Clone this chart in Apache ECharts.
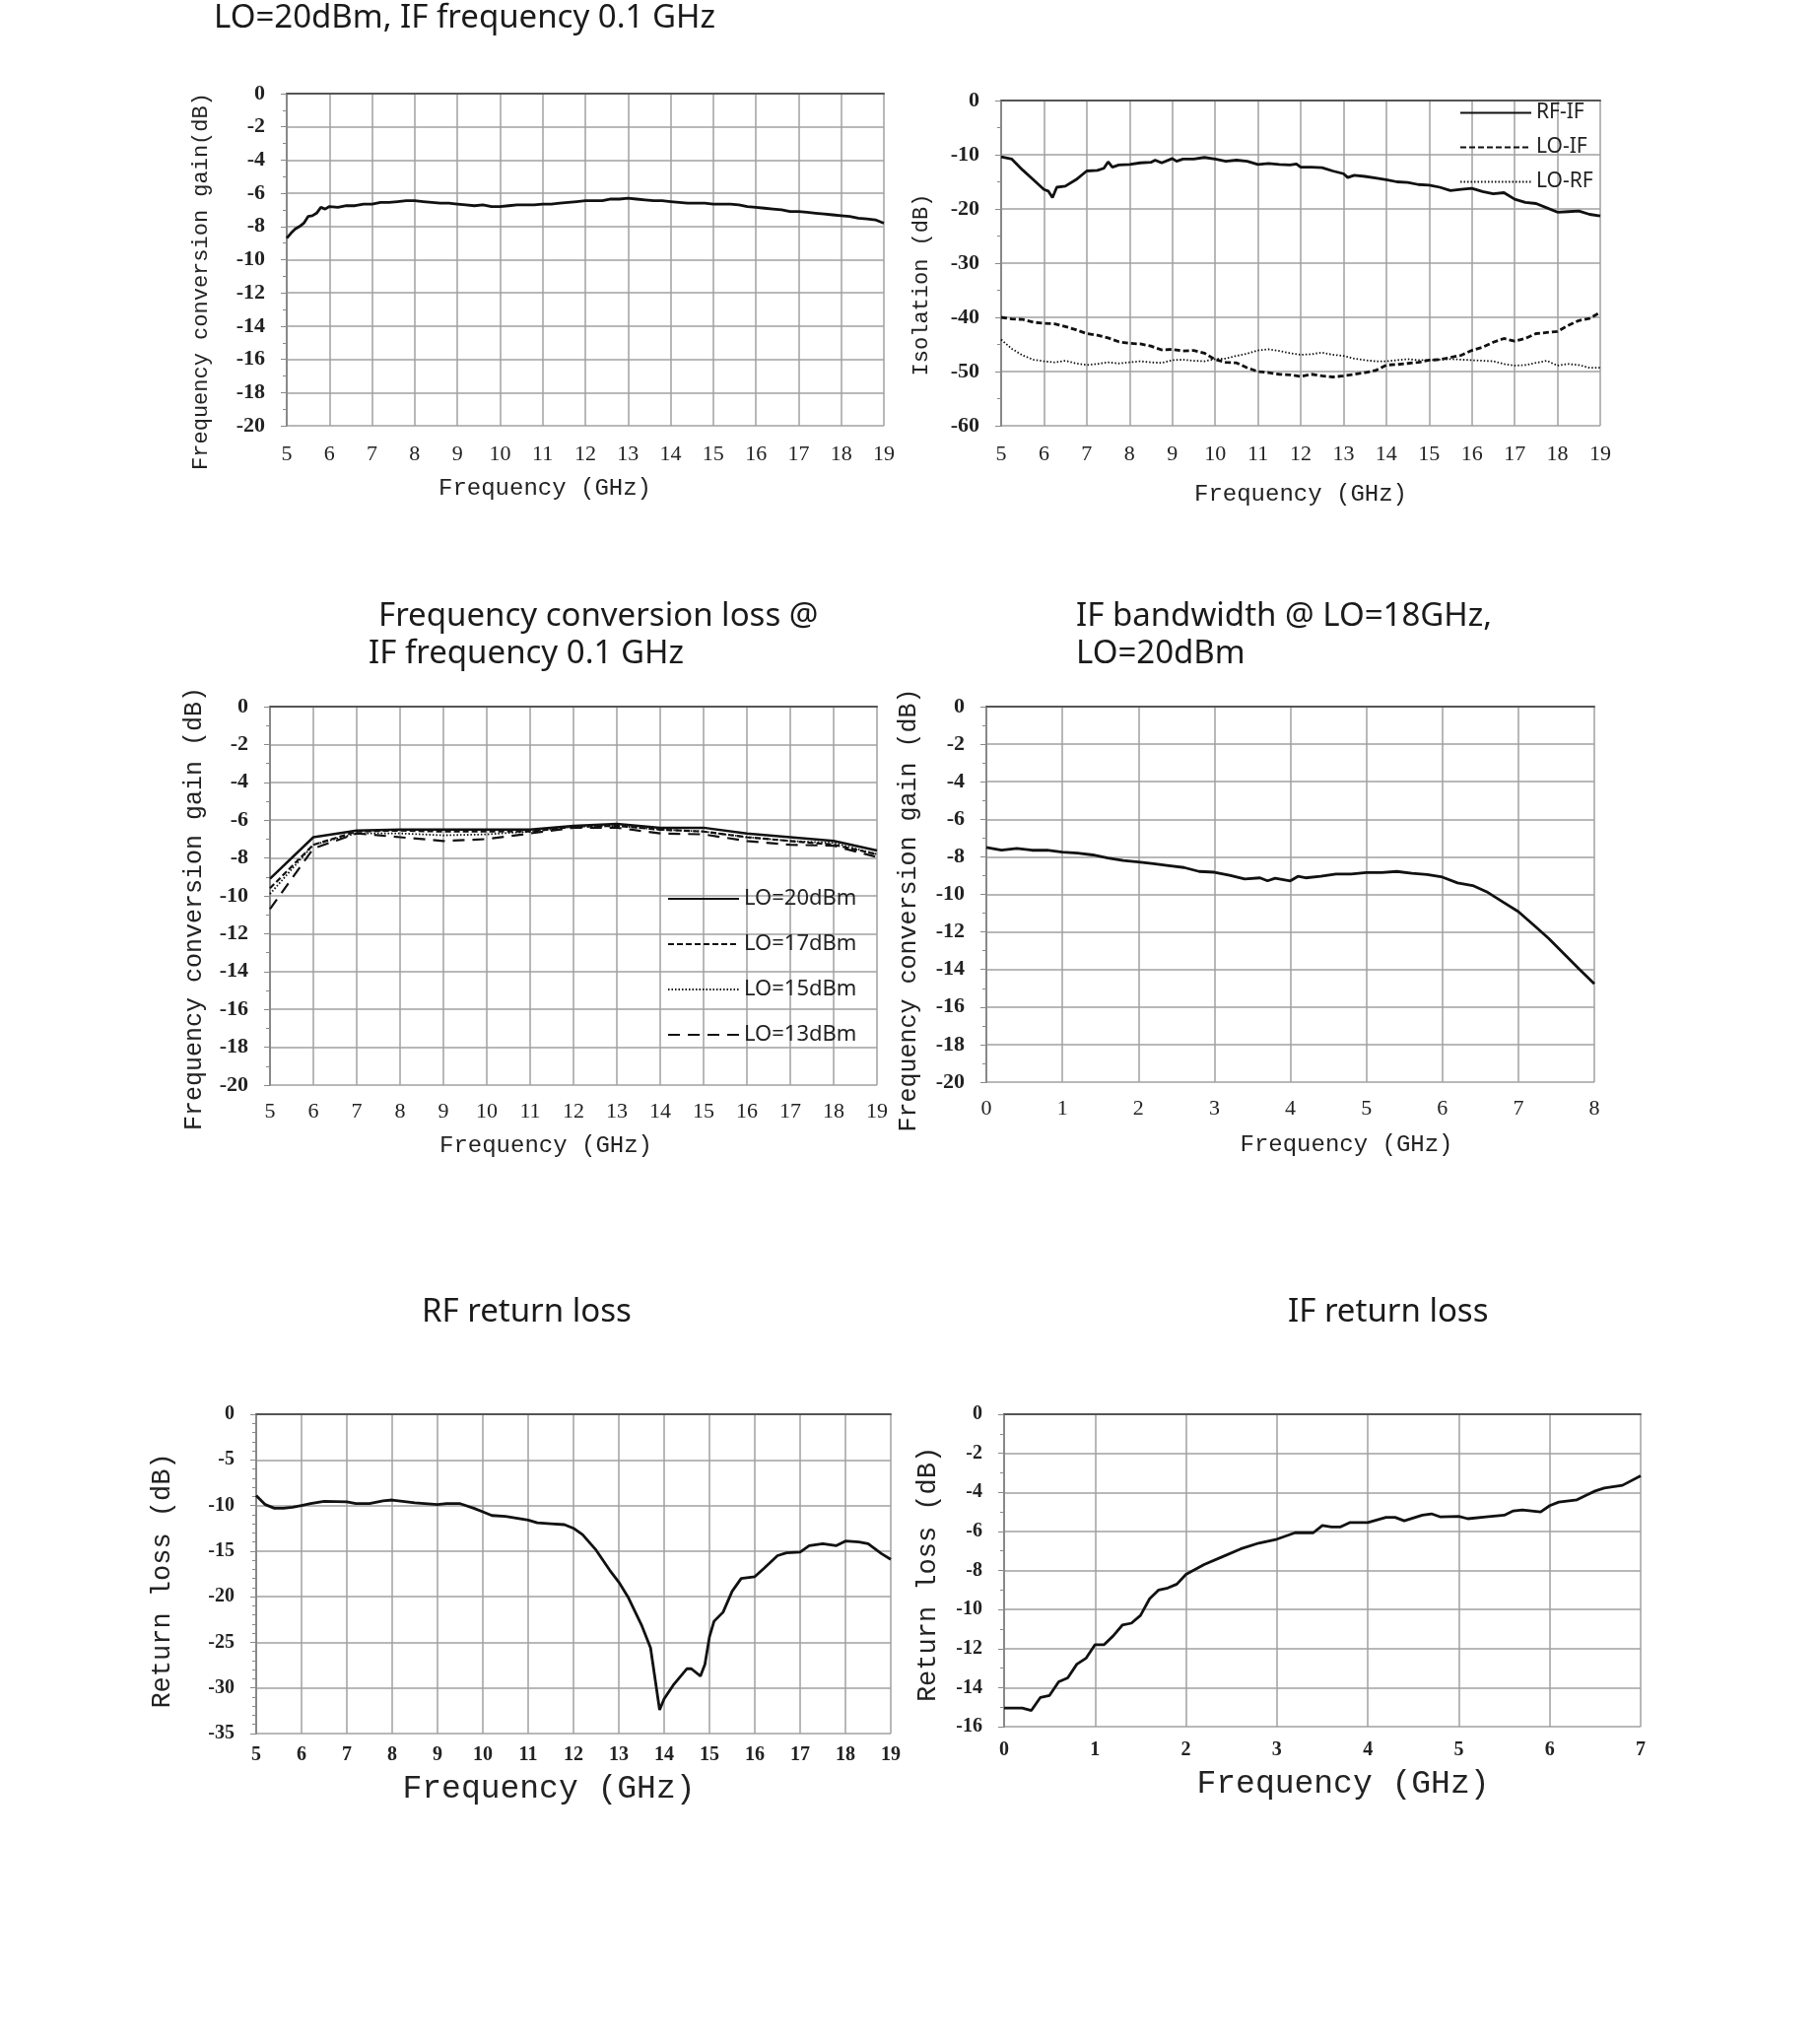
<!DOCTYPE html>
<html><head><meta charset="utf-8">
<script src="https://cdn.jsdelivr.net/npm/echarts@6/dist/echarts.min.js"></script>
<style>html,body{margin:0;padding:0;background:#fff}#c{width:1846px;height:2074px}</style>
</head><body><div id="c"></div>
<script>
// ---------- Chart 1: conversion gain, LO=20dBm ----------
const gainFreq = [5,5.1,5.2,5.3,5.4,5.5,5.6,5.7,5.8,5.9,6,6.2,6.4,6.6,6.8,7,7.2,7.4,7.6,7.8,8,8.2,8.4,8.6,8.8,9,9.2,9.4,9.6,9.8,10,10.2,10.4,10.6,10.8,11,11.2,11.4,11.6,11.8,12,12.2,12.4,12.6,12.8,13,13.2,13.4,13.6,13.8,14,14.2,14.4,14.6,14.8,15,15.2,15.4,15.6,15.8,16,16.2,16.4,16.6,16.8,17,17.2,17.4,17.6,17.8,18,18.2,18.4,18.6,18.8,19];
const gainVal = [-8.7,-8.4,-8.15,-8.0,-7.8,-7.4,-7.35,-7.2,-6.85,-6.95,-6.8,-6.85,-6.75,-6.75,-6.65,-6.65,-6.55,-6.55,-6.5,-6.45,-6.45,-6.5,-6.55,-6.6,-6.6,-6.65,-6.7,-6.75,-6.7,-6.8,-6.8,-6.75,-6.7,-6.7,-6.7,-6.65,-6.65,-6.6,-6.55,-6.5,-6.45,-6.45,-6.45,-6.35,-6.35,-6.3,-6.35,-6.4,-6.45,-6.45,-6.5,-6.55,-6.6,-6.6,-6.6,-6.65,-6.65,-6.65,-6.7,-6.8,-6.85,-6.9,-6.95,-7.0,-7.1,-7.1,-7.15,-7.2,-7.25,-7.3,-7.35,-7.4,-7.5,-7.55,-7.6,-7.8];

// ---------- Chart 2: isolation ----------
const isoFreq = [5,5.25,5.5,5.75,6,6.25,6.5,6.75,7,7.25,7.5,7.75,8,8.25,8.5,8.75,9,9.25,9.5,9.75,10,10.25,10.5,10.75,11,11.25,11.5,11.75,12,12.25,12.5,12.75,13,13.25,13.5,13.75,14,14.25,14.5,14.75,15,15.25,15.5,15.75,16,16.25,16.5,16.75,17,17.25,17.5,17.75,18,18.25,18.5,18.75,19];
const rfIfFreq = [5,5.25,5.5,5.75,6,6.1,6.2,6.3,6.5,6.75,7,7.25,7.4,7.5,7.6,7.75,8,8.25,8.5,8.6,8.75,9,9.1,9.25,9.5,9.75,10,10.25,10.5,10.75,11,11.25,11.5,11.75,11.9,12,12.25,12.5,12.75,13,13.1,13.25,13.5,13.75,14,14.25,14.5,14.75,15,15.25,15.5,15.75,16,16.25,16.5,16.75,17,17.25,17.5,17.75,18,18.25,18.5,18.75,19];
const rfIf = [-10.4,-10.8,-12.8,-14.6,-16.4,-16.7,-17.9,-16.0,-15.8,-14.6,-13.0,-12.9,-12.5,-11.3,-12.3,-11.9,-11.8,-11.5,-11.4,-11.0,-11.5,-10.7,-11.2,-10.8,-10.8,-10.5,-10.8,-11.2,-11.0,-11.2,-11.8,-11.6,-11.8,-11.9,-11.7,-12.3,-12.3,-12.4,-13.0,-13.5,-14.2,-13.8,-14.0,-14.3,-14.6,-15.0,-15.1,-15.5,-15.6,-16.0,-16.6,-16.4,-16.2,-16.8,-17.2,-17.0,-18.2,-18.8,-19.0,-19.8,-20.6,-20.5,-20.4,-21.0,-21.3];
const loIf = [-40.0,-40.3,-40.4,-40.9,-41.1,-41.2,-41.7,-42.3,-43.0,-43.3,-43.8,-44.5,-44.8,-44.9,-45.3,-46.0,-45.9,-46.2,-46.1,-46.6,-47.8,-48.3,-48.4,-49.3,-50.0,-50.2,-50.5,-50.6,-50.9,-50.5,-50.8,-51.0,-50.8,-50.5,-50.2,-49.8,-48.8,-48.7,-48.5,-48.3,-47.9,-47.8,-47.4,-47.0,-46.1,-45.5,-44.6,-43.9,-44.4,-43.9,-43.0,-42.8,-42.6,-41.5,-40.6,-40.2,-39.1];
const loRf = [-44.1,-45.8,-47.0,-47.8,-48.1,-48.3,-48.0,-48.5,-48.8,-48.6,-48.3,-48.5,-48.3,-48.1,-48.3,-48.4,-47.9,-47.8,-48.0,-48.1,-47.7,-47.6,-47.1,-46.7,-46.1,-45.9,-46.2,-46.6,-46.9,-46.8,-46.5,-46.9,-47.1,-47.6,-47.9,-48.1,-48.1,-47.9,-47.7,-47.9,-47.9,-47.8,-47.7,-47.8,-47.9,-48.0,-48.1,-48.6,-48.9,-48.8,-48.4,-48.0,-48.9,-48.6,-48.8,-49.3,-49.3];

// ---------- Chart 3: conversion loss vs LO power ----------
const lossFreq = [5,6,7,8,9,10,11,12,13,14,15,16,17,18,19];
const lo20 = [-9.1,-6.9,-6.55,-6.5,-6.5,-6.5,-6.5,-6.3,-6.2,-6.4,-6.4,-6.7,-6.9,-7.1,-7.6];
const lo17 = [-9.6,-7.3,-6.6,-6.55,-6.6,-6.6,-6.6,-6.35,-6.3,-6.5,-6.6,-6.9,-7.1,-7.3,-7.8];
const lo15 = [-9.9,-7.3,-6.7,-6.7,-6.8,-6.75,-6.6,-6.35,-6.3,-6.5,-6.6,-6.9,-7.1,-7.2,-7.8];
const lo13 = [-10.7,-7.5,-6.7,-6.9,-7.1,-7.0,-6.7,-6.4,-6.4,-6.7,-6.75,-7.1,-7.3,-7.35,-7.95];

// ---------- Chart 4: IF bandwidth ----------
const ifbwFreq = [0,0.2,0.4,0.6,0.8,1.0,1.2,1.4,1.6,1.8,2.0,2.2,2.4,2.6,2.8,3.0,3.2,3.4,3.6,3.7,3.8,4.0,4.1,4.2,4.4,4.6,4.8,5.0,5.2,5.4,5.6,5.8,6.0,6.2,6.4,6.6,6.8,7.0,7.2,7.4,7.6,7.8,8.0];
const ifbwVal = [-7.5,-7.65,-7.55,-7.65,-7.65,-7.75,-7.8,-7.9,-8.06,-8.2,-8.27,-8.37,-8.47,-8.57,-8.78,-8.82,-8.98,-9.18,-9.12,-9.28,-9.14,-9.28,-9.04,-9.12,-9.04,-8.92,-8.92,-8.84,-8.84,-8.78,-8.88,-8.94,-9.08,-9.39,-9.53,-9.9,-10.41,-10.92,-11.63,-12.35,-13.16,-13.98,-14.76];

// ---------- Chart 5: RF return loss ----------
const rfRlFreq = [5.0,5.2,5.4,5.6,5.8,6.0,6.2,6.5,7.0,7.2,7.5,7.8,8.0,8.5,9.0,9.2,9.5,9.8,10.0,10.2,10.5,11.0,11.2,11.5,11.8,12.0,12.2,12.5,12.8,13.0,13.2,13.5,13.7,13.9,14.0,14.2,14.5,14.6,14.8,14.9,15.0,15.1,15.3,15.5,15.7,16.0,16.2,16.5,16.7,17.0,17.2,17.5,17.8,18.0,18.3,18.5,18.8,19.0];
const rfRlVal = [-8.9,-9.9,-10.3,-10.3,-10.2,-10.0,-9.8,-9.55,-9.6,-9.8,-9.8,-9.5,-9.4,-9.7,-9.9,-9.8,-9.8,-10.3,-10.7,-11.1,-11.2,-11.6,-11.9,-12.0,-12.1,-12.5,-13.2,-14.9,-17.1,-18.4,-20.0,-23.1,-25.6,-32.4,-31.2,-29.7,-27.9,-27.9,-28.7,-27.4,-24.4,-22.7,-21.7,-19.4,-18.0,-17.8,-16.9,-15.5,-15.2,-15.1,-14.4,-14.2,-14.4,-13.9,-14.0,-14.2,-15.3,-15.9];

// ---------- Chart 6: IF return loss ----------
const ifRlFreq = [0.0,0.2,0.3,0.4,0.5,0.6,0.7,0.8,0.9,1.0,1.1,1.2,1.3,1.4,1.5,1.6,1.7,1.8,1.9,2.0,2.2,2.4,2.6,2.8,3.0,3.2,3.4,3.5,3.6,3.7,3.8,4.0,4.2,4.3,4.4,4.6,4.7,4.8,5.0,5.1,5.3,5.5,5.6,5.7,5.9,6.0,6.1,6.3,6.4,6.5,6.6,6.8,7.0];
const ifRlVal = [-15.05,-15.05,-15.17,-14.5,-14.4,-13.7,-13.5,-12.8,-12.5,-11.8,-11.8,-11.35,-10.8,-10.7,-10.3,-9.45,-9.0,-8.9,-8.7,-8.2,-7.7,-7.3,-6.9,-6.6,-6.4,-6.07,-6.07,-5.7,-5.77,-5.77,-5.55,-5.55,-5.28,-5.28,-5.46,-5.17,-5.1,-5.26,-5.23,-5.35,-5.26,-5.17,-4.95,-4.9,-5.0,-4.68,-4.5,-4.38,-4.15,-3.93,-3.78,-3.64,-3.15];

const zip = (xs, ys) => xs.map((x, i) => [x, ys[i]]);

const serif = 'Liberation Serif';
const mono = 'Liberation Mono';
const sans = 'Noto Sans';
const gridColor = '#a0a0a0';

function nameStyle(size, pad, weight) {
  return { fontFamily: mono, fontSize: size, color: '#222', fontWeight: weight || 'normal', padding: pad || 0 };
}
function xAx(i, min, max, opt) {
  return Object.assign({
    type: 'value', gridIndex: i, min: min, max: max, interval: 1,
    name: 'Frequency (GHz)', nameLocation: 'middle', nameGap: 50,
    nameTextStyle: nameStyle(23),
    axisLine: { show: true, lineStyle: { color: '#555', width: 2 } },
    axisTick: { show: false },
    axisLabel: { fontFamily: serif, fontSize: 22, color: '#222', margin: 18 },
    splitLine: { show: true, lineStyle: { color: gridColor, width: 1.5 } }
  }, opt || {});
}
function yAx(i, min, max, step, name, opt) {
  return Object.assign({
    type: 'value', gridIndex: i, min: min, max: max, interval: step,
    name: name, nameLocation: 'middle', nameGap: 70, nameRotate: 90,
    nameTextStyle: nameStyle(22),
    axisLine: { show: true, lineStyle: { color: '#888', width: 2 } },
    axisTick: { show: true, length: 6, lineStyle: { color: '#888' } },
    minorTick: { show: true, splitNumber: 2, length: 4, lineStyle: { color: '#888' } },
    axisLabel: { fontFamily: serif, fontSize: 22, fontWeight: 'bold', color: '#222', margin: 22 },
    splitLine: { show: true, lineStyle: { color: gridColor, width: 1.5 } }
  }, opt || {});
}
const lineBase = { type: 'line', symbol: 'none', showSymbol: false, smooth: false, animation: false };
function ln(name, i, data, lt, w) {
  return Object.assign({}, lineBase, { name: name, xAxisIndex: i, yAxisIndex: i, data: data,
    lineStyle: { color: '#111', width: w || 2.5, type: lt || 'solid' }, itemStyle: { color: '#111' } });
}

const titleStyle = { fontFamily: sans, fontSize: 33, fontWeight: 'normal', color: '#1a1a1a' };
const bottomTick = { fontFamily: serif, fontSize: 20, fontWeight: 'bold', color: '#222' };
const option = {
  backgroundColor: '#fff',
  animation: false,
  title: [
    { text: 'LO=20dBm, IF frequency 0.1 GHz', left: 212, top: -3, textStyle: titleStyle },
    { text: 'Frequency conversion loss @', left: 379, top: 604, textStyle: titleStyle },
    { text: 'IF frequency 0.1 GHz', left: 369, top: 642, textStyle: titleStyle },
    { text: 'IF bandwidth @ LO=18GHz,', left: 1087, top: 604, textStyle: titleStyle },
    { text: 'LO=20dBm', left: 1087, top: 642, textStyle: titleStyle },
    { text: 'RF return loss', left: 423, top: 1310, textStyle: titleStyle },
    { text: 'IF return loss', left: 1302, top: 1310, textStyle: titleStyle }
  ],
  grid: [
    { left: 291, top: 95, width: 606, height: 337 },
    { left: 1016, top: 102, width: 608, height: 330 },
    { left: 274, top: 717, width: 616, height: 384 },
    { left: 1001, top: 717, width: 617, height: 381 },
    { left: 260, top: 1435, width: 644, height: 324 },
    { left: 1019, top: 1435, width: 646, height: 317 }
  ],
  legend: [
    { data: ['RF-IF', 'LO-IF', 'LO-RF'], orient: 'vertical', left: 1476, top: 99,
      itemWidth: 72, itemHeight: 14, itemGap: 14,
      itemStyle: { opacity: 0 }, lineStyle: { width: 2 },
      textStyle: { fontFamily: sans, fontSize: 21, color: '#222' } },
    { data: ['LO=20dBm', 'LO=17dBm', 'LO=15dBm', 'LO=13dBm'], orient: 'vertical', left: 672, top: 896,
      itemWidth: 72, itemHeight: 14, itemGap: 24,
      itemStyle: { opacity: 0 }, lineStyle: { width: 2 },
      textStyle: { fontFamily: sans, fontSize: 22, color: '#222' } }
  ],
  xAxis: [
    xAx(0, 5, 19, { nameGap: 52, nameTextStyle: nameStyle(24, [0, 82, 0, 0]) }),
    xAx(1, 5, 19, { nameGap: 58, nameTextStyle: nameStyle(24) }),
    xAx(2, 5, 19, { nameGap: 50, axisLabel: { fontFamily: serif, fontSize: 22, color: '#222', margin: 16 }, nameTextStyle: nameStyle(24, [0, 56, 0, 0]) }),
    xAx(3, 0, 8, { nameGap: 52, axisLabel: { fontFamily: serif, fontSize: 22, color: '#222', margin: 16 }, nameTextStyle: nameStyle(24, [0, 0, 0, 114]) }),
    xAx(4, 5, 19, { nameGap: 40, axisLabel: Object.assign({ margin: 12 }, bottomTick), nameTextStyle: nameStyle(33, [0, 50, 0, 0]) }),
    xAx(5, 0, 7, { nameGap: 42, axisLabel: Object.assign({ margin: 14 }, bottomTick), nameTextStyle: nameStyle(33, [0, 0, 0, 42]) })
  ],
  yAxis: [
    yAx(0, -20, 0, 2, 'Frequency conversion gain(dB)', { nameGap: 76, nameTextStyle: nameStyle(22, [0, 44, 0, 0]) }),
    yAx(1, -60, 0, 10, 'Isolation (dB)', { nameGap: 70, nameTextStyle: nameStyle(22, [0, 44, 0, 0]) }),
    yAx(2, -20, 0, 2, 'Frequency conversion gain (dB)', { nameGap: 64, nameTextStyle: nameStyle(25, [0, 26, 0, 0]) }),
    yAx(3, -20, 0, 2, 'Frequency conversion gain (dB)', { nameGap: 66, nameTextStyle: nameStyle(25, [0, 32, 0, 0]) }),
    yAx(4, -35, 0, 5, 'Return loss (dB)', { nameGap: 82, minorTick: { show: true, splitNumber: 5, length: 4, lineStyle: { color: '#888' } },
      axisLabel: Object.assign({ margin: 22 }, bottomTick),
      nameTextStyle: nameStyle(27, [0, 14, 0, 0]) }),
    yAx(5, -16, 0, 2, 'Return loss (dB)', { nameGap: 64,
      axisLabel: Object.assign({ margin: 22 }, bottomTick),
      nameTextStyle: nameStyle(27, [0, 8, 0, 0]) })
  ],
  series: [
    ln('gain', 0, zip(gainFreq, gainVal), 'solid', 2.8),
    ln('RF-IF', 1, zip(rfIfFreq, rfIf), 'solid', 2.8),
    ln('LO-IF', 1, zip(isoFreq, loIf), [6, 3], 2.8),
    ln('LO-RF', 1, zip(isoFreq, loRf), [1.5, 2], 1.8),
    ln('LO=20dBm', 2, zip(lossFreq, lo20), 'solid', 2.5),
    ln('LO=17dBm', 2, zip(lossFreq, lo17), [6, 3], 2.2),
    ln('LO=15dBm', 2, zip(lossFreq, lo15), [1.5, 2], 1.8),
    ln('LO=13dBm', 2, zip(lossFreq, lo13), [12, 8], 2.2),
    ln('ifbw', 3, zip(ifbwFreq, ifbwVal), 'solid', 2.8),
    ln('rfrl', 4, zip(rfRlFreq, rfRlVal), 'solid', 2.8),
    ln('ifrl', 5, zip(ifRlFreq, ifRlVal), 'solid', 2.8)
  ]
};
const chart = echarts.init(document.getElementById('c'), null, { renderer: 'canvas' });
chart.setOption(option);
</script>
</body></html>
